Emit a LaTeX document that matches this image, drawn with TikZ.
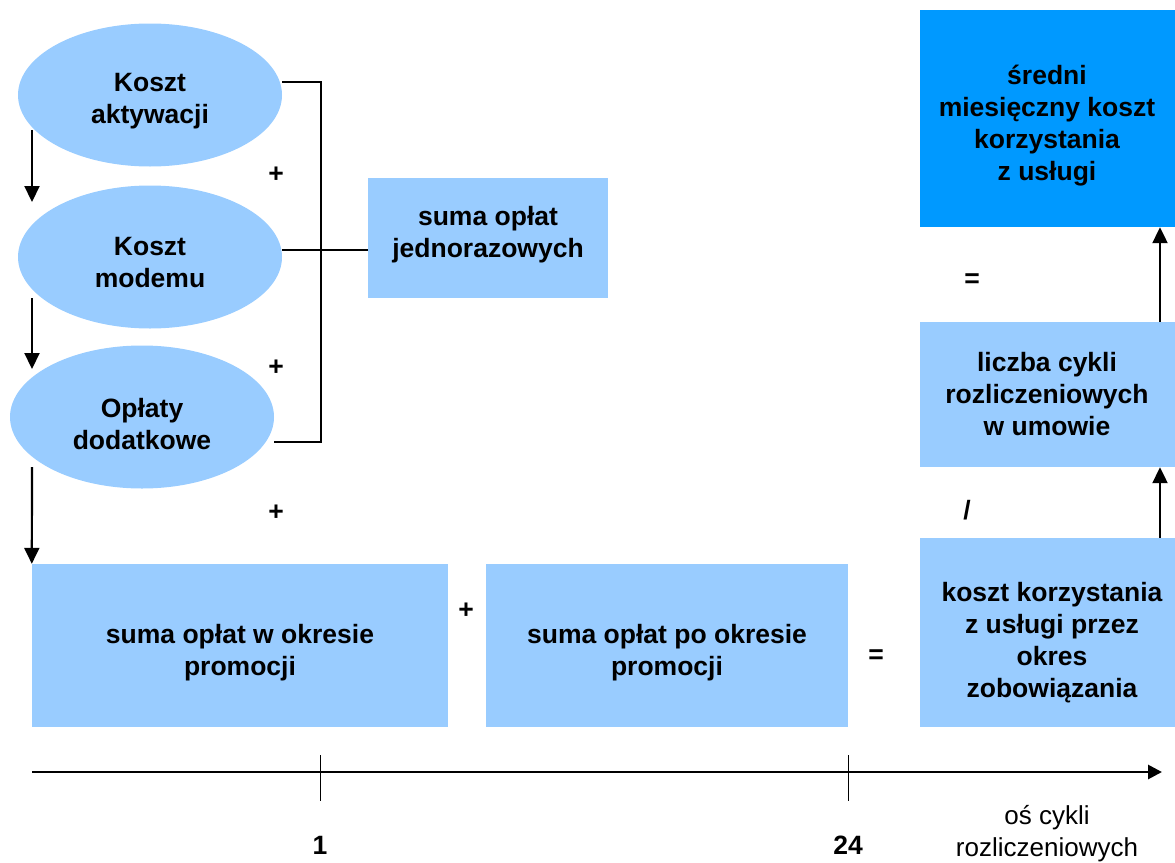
\documentclass[tikz,border=0pt]{standalone}
\usepackage{fontspec}
\setmainfont{Liberation Sans}
\usetikzlibrary{shapes.geometric,arrows.meta}
\definecolor{lightb}{HTML}{99CCFF}
\definecolor{darkb}{HTML}{0099FF}
\tikzset{
  ell/.style={ellipse,fill=lightb,minimum width=264pt,minimum height=143pt,inner sep=0pt},
  box/.style={rectangle,fill=lightb,inner sep=0pt},
  txt/.style={align=center,font=\fontsize{26.5}{32}\selectfont\bfseries,inner sep=0pt},
  sym/.style={font=\fontsize{26.5}{30}\selectfont\bfseries,inner sep=0pt},
  arr/.style={line width=2.2pt,-{Triangle[width=15pt,length=16pt]}},
  brk/.style={line width=1.5pt},
}
\begin{document}
\begin{tikzpicture}[x=1pt,y=-1pt]
\useasboundingbox (0,0) rectangle (1175,862);
% ellipses
\node[ell] (e1) at (150,95) {};
\node[txt] at (150,101) {Koszt\\aktywacji};
\node[ell] (e2) at (150,257) {};
\node[txt] at (150,263) {Koszt\\modemu};
\node[ell] (e3) at (142,417) {};
\node[txt] at (142,424) {Opłaty\\dodatkowe};
% boxes
\node[box,minimum width=240pt,minimum height=120pt] (sj) at (488,238) {};
\node[txt] at (488,235) {suma opłat\\jednorazowych};
\node[box,minimum width=416pt,minimum height=163pt] (b1) at (240,645.5) {};
\node[txt] at (240,653) {suma opłat w okresie\\promocji};
\node[box,minimum width=362pt,minimum height=163pt] (b2) at (667,645.5) {};
\node[txt] at (667,653) {suma opłat po okresie\\promocji};
\node[box,minimum width=255pt,minimum height=189pt] (b3) at (1047.5,632.5) {};
\node[txt] at (1052,643) {koszt korzystania\\z usługi przez\\okres\\zobowiązania};
\node[box,minimum width=255pt,minimum height=145pt] (b4) at (1047.5,394.5) {};
\node[txt] at (1047,394) {liczba cykli\\rozliczeniowych\\w umowie};
\node[box,fill=darkb,minimum width=255pt,minimum height=217pt] (b5) at (1047.5,118.5) {};
\node[txt] at (1047,126) {średni\\miesięczny koszt\\korzystania\\z usługi};
% operators
\node[sym] (p1) at (276,175) {+};
\node[sym] (p2) at (276,368) {+};
\node[sym] (p3) at (276,513) {+};
\node[sym] (p4) at (466,611) {+};
\node[sym] (q1) at (876,657) {=};
\node[sym] (q2) at (972,281) {=};
\node[sym] (d1) at (967,510) {/};
% bracket
\coordinate (bt) at (321,82);
\coordinate (bb) at (321,442);
\coordinate (bm) at (282,250);
\draw[brk] ([yshift=13pt]e1.east) -- (bt) -- (bb) -- ([yshift=-25pt]e3.east);
\draw[brk] (bm) -- (bm -| sj.west);
% left arrows
\coordinate (a1s) at (32,130); \coordinate (a1e) at (32,202);
\coordinate (a2s) at (32,298); \coordinate (a2e) at (32,369);
\coordinate (a3s) at (32,467);
\draw[arr] (a1s) -- (a1e);
\draw[arr] (a2s) -- (a2e);
\draw[arr] (a3s) -- (b1.north west);
% right arrows
\coordinate (rx) at (1160,0);
\draw[arr] (b3.north -| rx) -- (b4.south -| rx);
\draw[arr] (b4.north -| rx) -- (b5.south -| rx);
% axis
\coordinate (ax0) at (32,772);
\coordinate (ax1) at (1162,772);
\draw[line width=2.8pt,-{Triangle[width=14pt,length=14pt]}] (ax0) -- (ax1);
\coordinate (t1a) at (320,755); \coordinate (t1b) at (320,801);
\coordinate (t2a) at (848,755); \coordinate (t2b) at (848,801);
\draw[line width=1pt] (t1a) -- (t1b);
\draw[line width=1pt] (t2a) -- (t2b);
\node[sym] (l1) at (320,845) {1};
\node[sym] (l24) at (848,845) {24};
\node[align=center,font=\fontsize{26}{32}\selectfont,inner sep=0pt] (lx) at (1047,834) {oś cykli\\rozliczeniowych};
\end{tikzpicture}
\end{document}
